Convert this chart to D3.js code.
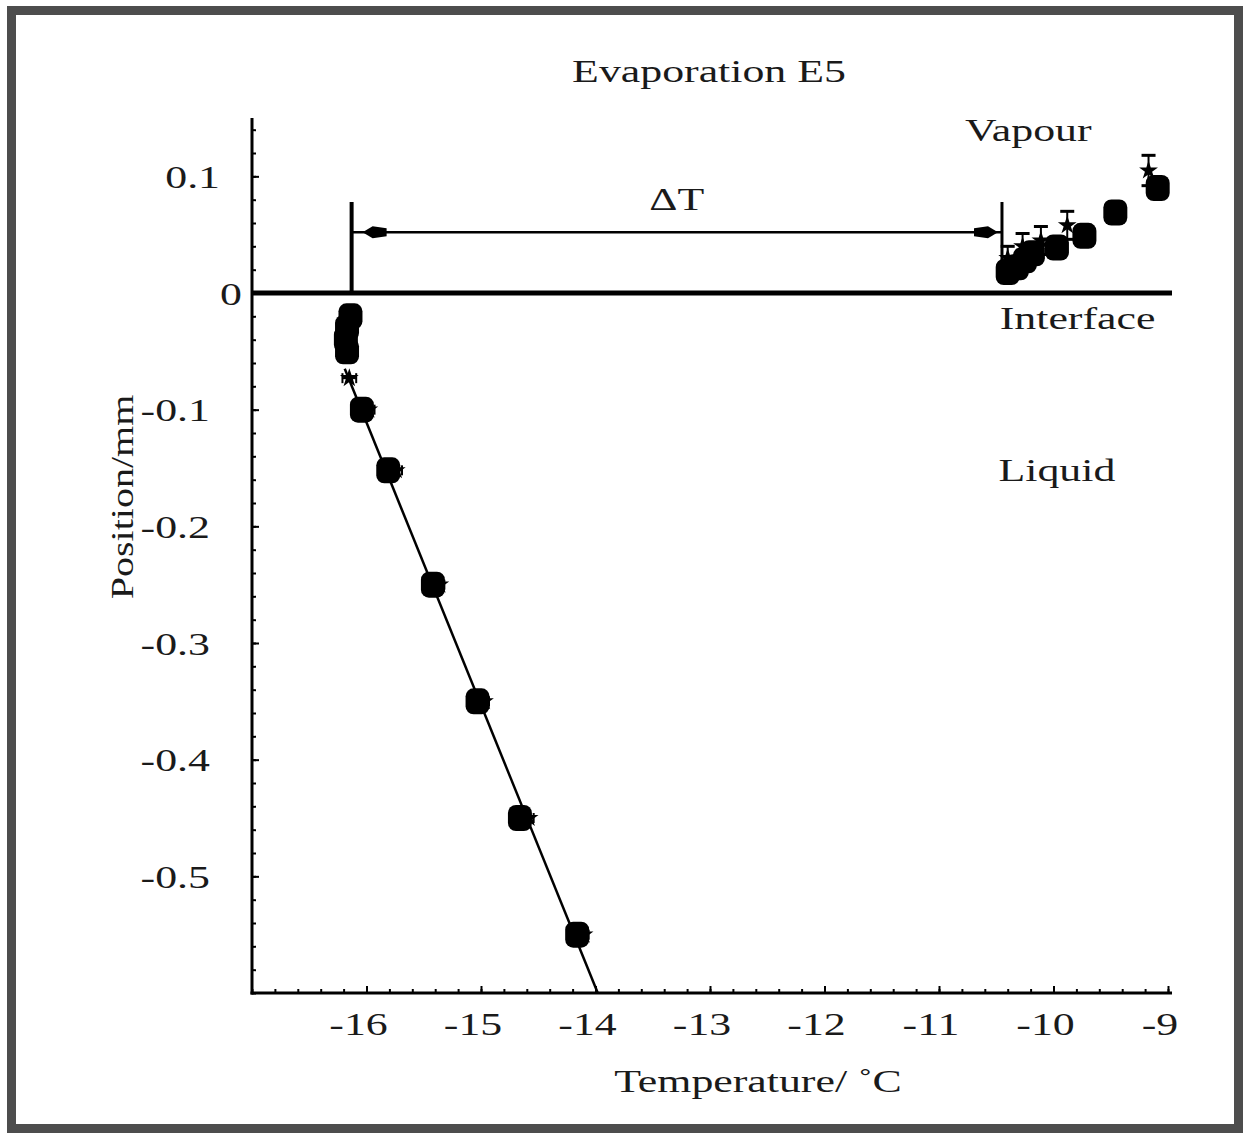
<!DOCTYPE html>
<html><head><meta charset="utf-8">
<script src="https://cdn.jsdelivr.net/npm/d3@7"></script>
<style>html,body{margin:0;padding:0;background:#fff;}svg{display:block;}</style>
</head><body>
<script>
// ---- data ----
const title = "Evaporation E5";
const xLabel = "Temperature/ \u02DAC";
const yLabel = "Position/mm";
const xTicks = [-16, -15, -14, -13, -12, -11, -10, -9];
const xTickLabels = ["-16", "-15", "-14", "-13", "-12", "-11", "-10", "-9"];
const yTicks = [0.1, 0, -0.1, -0.2, -0.3, -0.4, -0.5];
const yTickLabels = ["0.1", "0", "-0.1", "-0.2", "-0.3", "-0.4", "-0.5"];
// filled markers (temperature, position)
const circleT   = [-16.14, -16.17, -16.18, -16.17, -16.04, -15.81, -15.42, -15.03, -14.66, -14.16,
                   -10.40, -10.32, -10.25, -10.18, -9.97, -9.73, -9.46, -9.09];
const circlePos = [-0.020, -0.030, -0.040, -0.050, -0.100, -0.152, -0.250, -0.350, -0.450, -0.550,
                   0.018, 0.022, 0.028, 0.034, 0.039, 0.049, 0.069, 0.090];
// star markers with error bars
const starT    = [-16.15, -15.98, -15.74, -15.36, -14.97, -14.58, -14.10, -10.40, -10.27, -10.11, -9.88, -9.17];
const starPos  = [-0.073, -0.100, -0.152, -0.250, -0.350, -0.450, -0.550, 0.030, 0.040, 0.045, 0.058, 0.105];
const starErrT = [0.06, 0.05, 0.05, 0.04, 0.04, 0.04, 0.04, 0, 0, 0, 0, 0];
const starErrP = [0, 0, 0, 0, 0, 0, 0, 0.010, 0.011, 0.012, 0.012, 0.013];
// linear fit in the liquid
const fitT   = [-13.98, -16.19];
const fitPos = [-0.60, -0.065];
// interface and delta T annotation
const interfacePos = 0;
const deltaT = [-16.13, -10.45];
const deltaTPos = 0.052;
const deltaTTop = 0.078;
const regionLabels = ["Vapour", "Interface", "Liquid", "\u0394T"];
const regionT   = [-10.22, -9.79, -9.97, -13.29];
const regionPos = [0.13, -0.031, -0.161, 0.071];

// ---- layout ----
const W = 1243, H = 1134;
const svg = d3.select("body").append("svg").attr("width", W).attr("height", H);
const FONT = "'Liberation Serif','Times New Roman',serif";
const FS = 32, SX = 1.37, SXR = 1.25, TXT = "#1a1a1a";

svg.append("rect").attr("x", 11.5).attr("y", 10.5).attr("width", 1227).attr("height", 1118)
  .attr("fill", "#fff").attr("stroke", "#4d4d4d").attr("stroke-width", 9);

const x = d3.scaleLinear().domain([-17, -9]).range([252, 1168]);
const y = d3.scaleLinear().domain([-0.6, 0.15]).range([993, 118]);

function label(px, py, t, anchor, rot) {
  const tr = rot ? `translate(${px},${py}) rotate(-90) scale(${SXR},1)` : `translate(${px},${py}) scale(${SX},1)`;
  return svg.append("text").attr("transform", tr).attr("text-anchor", anchor || "middle")
    .attr("font-family", FONT).attr("font-size", FS).attr("fill", TXT).text(t);
}

// axes (ticks point inward)
const gx = svg.append("g").attr("transform", `translate(0,${y(-0.6)})`);
gx.call(d3.axisBottom(x).tickValues(d3.range(-17, -8.99, 0.2)).tickSizeInner(-4).tickSizeOuter(0).tickFormat(""));
gx.append("g").call(d3.axisBottom(x).tickValues(xTicks).tickSizeInner(-7).tickSizeOuter(0).tickFormat(""));
gx.selectAll("path.domain").remove();
gx.selectAll("line").attr("stroke", "#000").attr("stroke-width", 2);
svg.append("line").attr("x1", x(-17) - 1.5).attr("x2", x(-8.965)).attr("y1", y(-0.6)).attr("y2", y(-0.6))
  .attr("stroke", "#000").attr("stroke-width", 3);

const gy = svg.append("g").attr("transform", `translate(${x(-17)},0)`);
gy.call(d3.axisLeft(y).tickValues(d3.range(-0.6, 0.1401, 0.02)).tickSizeInner(-4).tickSizeOuter(0).tickFormat(""));
gy.append("g").call(d3.axisLeft(y).tickValues(yTicks).tickSizeInner(-7).tickSizeOuter(0).tickFormat(""));
gy.selectAll("path.domain").remove();
gy.selectAll("line").attr("stroke", "#000").attr("stroke-width", 2);
svg.append("line").attr("x1", x(-17)).attr("x2", x(-17)).attr("y1", y(0.15)).attr("y2", y(-0.6) + 1.5)
  .attr("stroke", "#000").attr("stroke-width", 3);

// tick labels
xTicks.forEach((v, i) => label(x(v) - 8, 1035, xTickLabels[i], "middle"));
yTicks.forEach((v, i) => {
  const right = v === 0 ? 242 : (v > 0 ? 220 : 210);
  label(right, y(v) + 11.5, yTickLabels[i], "end");
});

// interface line
svg.append("line").attr("x1", x(-17)).attr("x2", x(-8.965)).attr("y1", y(interfacePos)).attr("y2", y(interfacePos))
  .attr("stroke", "#000").attr("stroke-width", 5);

// delta T annotation
svg.append("line").attr("x1", x(deltaT[0])).attr("x2", x(deltaT[0])).attr("y1", y(deltaTTop)).attr("y2", y(interfacePos))
  .attr("stroke", "#000").attr("stroke-width", 4);
svg.append("line").attr("x1", x(deltaT[1])).attr("x2", x(deltaT[1])).attr("y1", y(deltaTTop)).attr("y2", y(0.01))
  .attr("stroke", "#000").attr("stroke-width", 3);
svg.append("line").attr("x1", x(deltaT[0])).attr("x2", x(deltaT[1])).attr("y1", y(deltaTPos)).attr("y2", y(deltaTPos))
  .attr("stroke", "#000").attr("stroke-width", 2.5);
[[x(deltaT[0]) + 11, 1], [x(deltaT[1]) - 4, -1]].forEach(([tx, dir]) => {
  const yy = y(deltaTPos);
  svg.append("path").attr("d", `M${tx},${yy} L${tx + dir * 10},${yy - 6} L${tx + dir * 24},${yy - 4} L${tx + dir * 24},${yy + 4} L${tx + dir * 10},${yy + 6} Z`)
    .attr("fill", "#000");
});

// fit line
svg.append("path").datum(fitT.map((t, i) => [t, fitPos[i]]))
  .attr("d", d3.line().x(d => x(d[0])).y(d => y(d[1])))
  .attr("stroke", "#000").attr("stroke-width", 2.5).attr("fill", "none");

// star markers with error bars
const star = d3.symbol().type(d3.symbolStar).size(110);
starT.forEach((t, i) => {
  const cx = x(t), cy = y(starPos[i]);
  if (starErrT[i] > 0) {
    const x0 = x(t - starErrT[i]), x1 = x(t + starErrT[i]);
    svg.append("line").attr("x1", x0).attr("x2", x1).attr("y1", cy).attr("y2", cy).attr("stroke", "#000").attr("stroke-width", 2);
    [x0, x1].forEach(xx => svg.append("line").attr("x1", xx).attr("x2", xx).attr("y1", cy - 5).attr("y2", cy + 5).attr("stroke", "#000").attr("stroke-width", 2));
  }
  if (starErrP[i] > 0) {
    const y0 = y(starPos[i] + starErrP[i]), y1 = y(starPos[i] - starErrP[i]);
    svg.append("line").attr("x1", cx).attr("x2", cx).attr("y1", y0).attr("y2", y1).attr("stroke", "#000").attr("stroke-width", 2);
    [y0, y1].forEach(yy => svg.append("line").attr("x1", cx - 7).attr("x2", cx + 7).attr("y1", yy).attr("y2", yy).attr("stroke", "#000").attr("stroke-width", 3));
  }
  svg.append("path").attr("d", star).attr("transform", `translate(${cx},${cy})`).attr("fill", "#000");
});

// filled markers
circleT.forEach((t, i) => {
  svg.append("rect").attr("x", x(t) - 12).attr("y", y(circlePos[i]) - 13)
    .attr("width", 24).attr("height", 26).attr("rx", 8).attr("ry", 8).attr("fill", "#000");
});

// texts
label(709, 82, title, "middle");
label(758, 1092, xLabel, "middle");
label(133, 497, yLabel, "middle", true);
regionLabels.forEach((t, i) => label(x(regionT[i]), y(regionPos[i]), t, "middle"));
</script>
</body></html>
